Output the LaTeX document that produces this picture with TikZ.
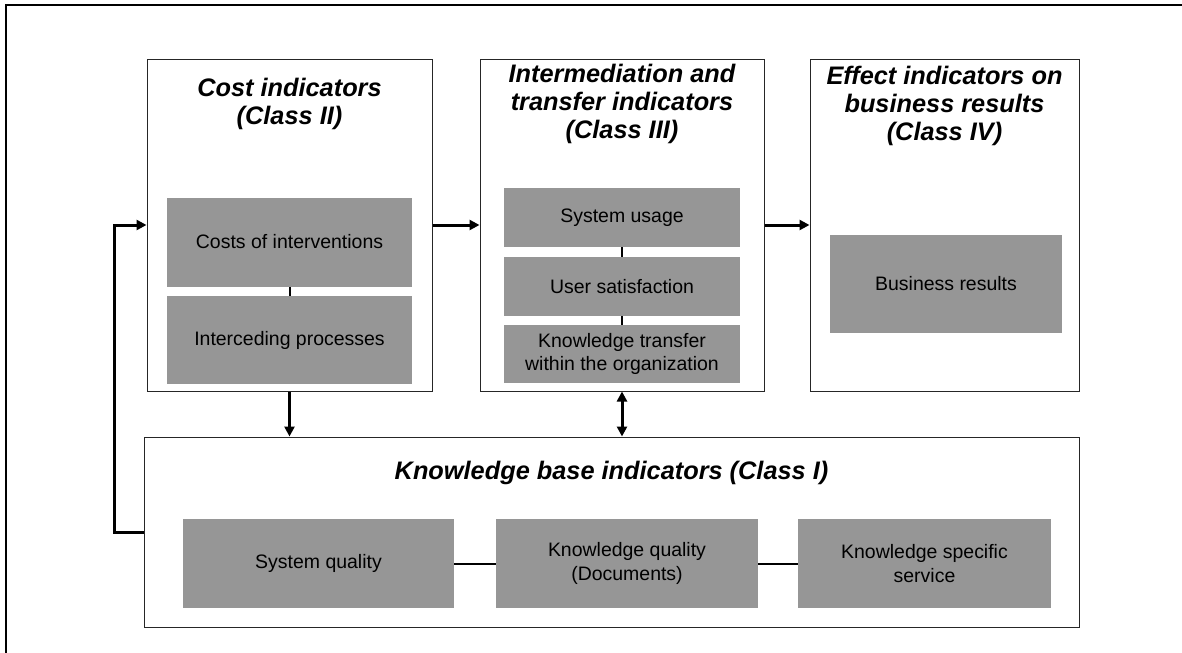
\documentclass[tikz,border=0pt]{standalone}
\usepackage{fontspec}
\setmainfont{Liberation Sans}
\usepackage{tikz}
\usetikzlibrary{positioning,arrows.meta}
\usepackage{xcolor}
\definecolor{boxgray}{RGB}{150,150,150}
\tikzstyle{panel} = [rectangle, draw=black!85, line width=0.75pt, fill=white, minimum height=249pt]
\tikzstyle{item} = [rectangle, fill=boxgray, text=black, align=center, inner sep=0pt, font=\fontsize{14.6}{17.5}\selectfont]
\tikzstyle{heading} = [align=center, inner sep=0pt, font=\bfseries\itshape\fontsize{19}{21}\selectfont]
\tikzstyle{line} = [draw, line width=2.25pt, -{Triangle[length=7.5pt,width=7.5pt]}]
\tikzstyle{link} = [draw, line width=1.5pt]

\begin{document}
\begin{tikzpicture}[x=0.75pt, y=-0.75pt]
  \useasboundingbox (0,0) rectangle (1182,653);
  %% outer frame
  \draw[line width=1.5pt] (6,653) -- (6,5) -- (1182,5);
  %% Class II
  \node[panel, minimum width=213.75pt] (cost) at (289.5,225) {};
  \node[heading] (cost-t) at (289.5,104) {Cost indicators\\(Class II)};
  \node[item, minimum width=183.75pt, minimum height=66.75pt] (int) at (289.5,242) {Costs of interventions};
  \node[item, minimum width=183.75pt, minimum height=66pt] (proc) at (289.5,340) {Interceding processes};
  %% Class III
  \node[panel, minimum width=213pt] (trans) at (622,225) {};
  \node[heading] (trans-t) at (622,104) {Intermediation and\\transfer indicators\\(Class III)};
  \node[item, minimum width=177pt, minimum height=44.25pt] (usage) at (622,217.5) {System usage};
  \node[item, minimum width=177pt, minimum height=44.25pt] (sat) at (622,286.5) {User satisfaction};
  \node[item, minimum width=177pt, minimum height=43.5pt] (ktr) at (622,354) {Knowledge transfer\\within the organization};
  %% Class IV
  \node[panel, minimum width=201.75pt] (eff) at (944.5,225) {};
  \node[heading] (eff-t) at (944.5,106) {Effect indicators on\\business results\\(Class IV)};
  \node[item, minimum width=174pt, minimum height=73.5pt] (res) at (946,284) {Business results};
  %% Class I
  \node[panel, minimum width=701.25pt, minimum height=142.5pt] (kb) at (611.5,532) {};
  \node[heading] (kb-t) at (611.5,473) {Knowledge base indicators (Class I)};
  \node[item, minimum width=203.25pt, minimum height=66.75pt] (sq) at (318.5,563.5) {System quality};
  \node[item, minimum width=196.5pt, minimum height=66.75pt] (kq) at (627,563.5) {Knowledge quality\\(Documents)};
  \node[item, minimum width=189.75pt, minimum height=66.75pt] (ks) at (924.5,563.5) {Knowledge specific\\service};
  \coordinate (back) at (114,532);
  %% edges
  \path[line] (cost) -- (trans);
  \path[line] (trans) -- (eff);
  \path[line] (cost.south) -- (cost.south |- kb.north);
  \path[line, {Triangle[length=7.5pt,width=7.5pt]}-{Triangle[length=7.5pt,width=7.5pt]}] (trans.south) -- (trans.south |- kb.north);
  \path[line] (kb.west) -- (back) |- (cost.west);
  \path[link] (int) -- (proc);
  \path[link] (usage) -- (sat);
  \path[link] (sat) -- (ktr);
  \path[link] (sq) -- (kq);
  \path[link] (kq) -- (ks);
\end{tikzpicture}
\end{document}
